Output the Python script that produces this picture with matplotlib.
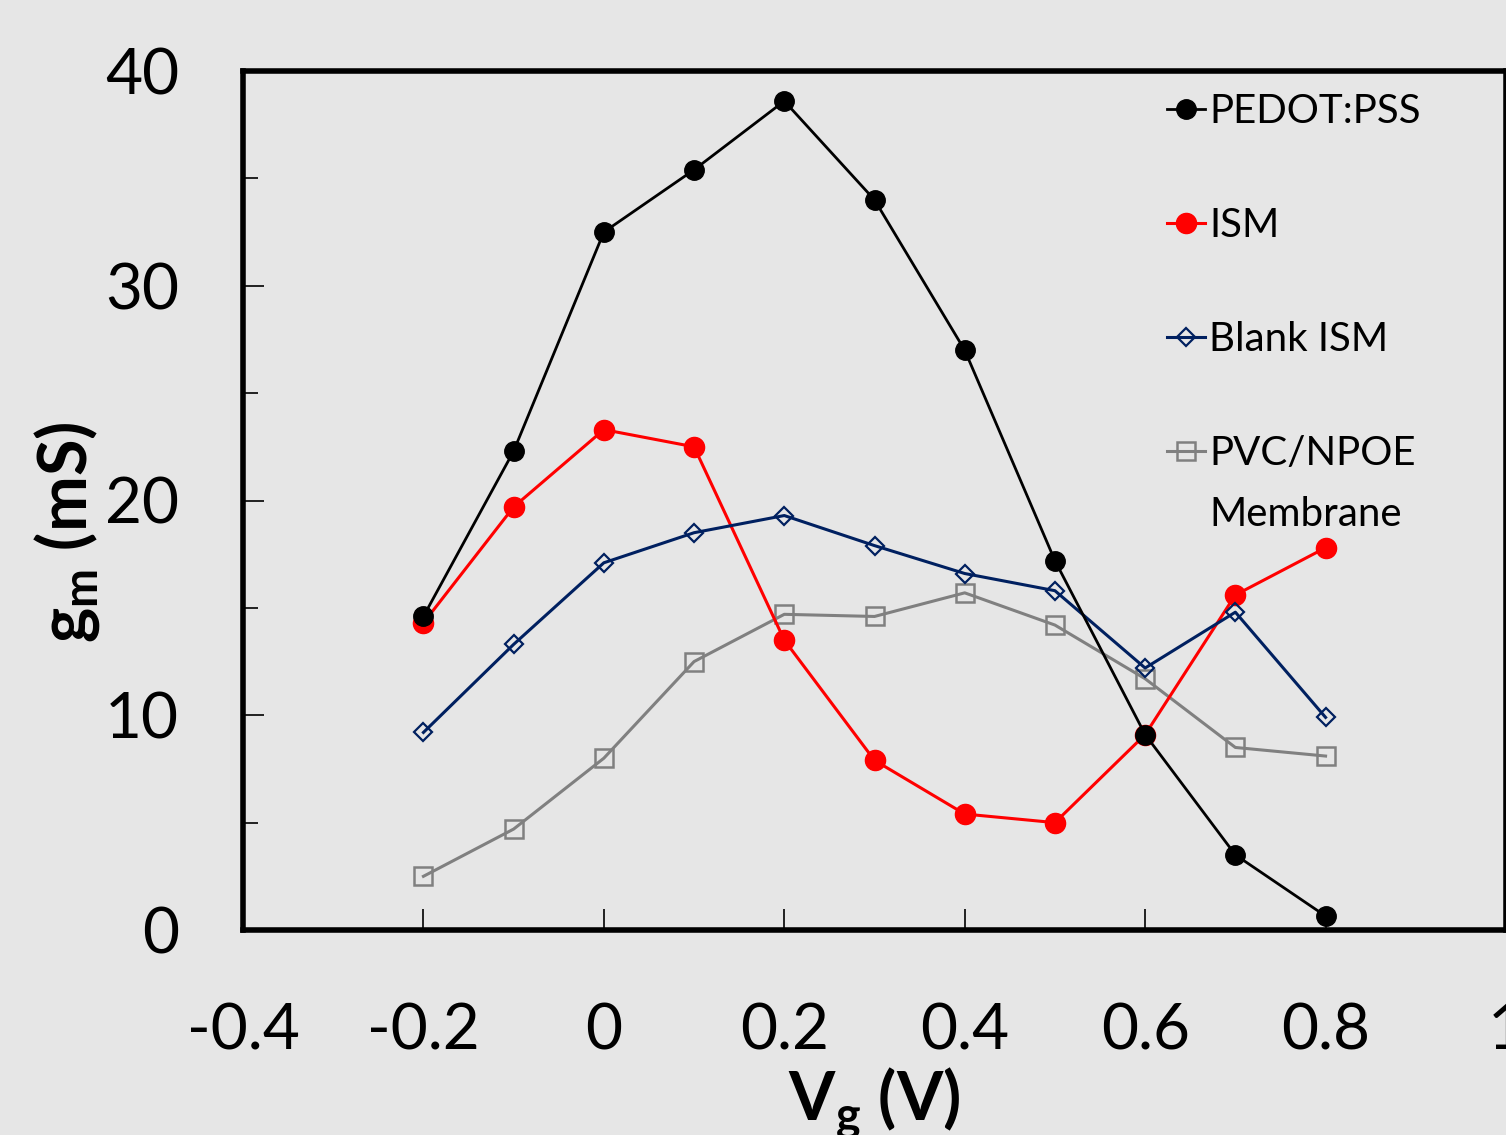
"""
Transconduttanza g_m in funzione di V_g per i diversi strati sul gate.
"""

import matplotlib
matplotlib.use("Agg")
import matplotlib.pyplot as plt
from matplotlib.ticker import MultipleLocator

# ─────────────────────────────────────────────
# DATI
# ─────────────────────────────────────────────
vg = [-0.2, -0.1, 0.0, 0.1, 0.2, 0.3, 0.4, 0.5, 0.6, 0.7, 0.8]

gm_pedot = [14.6, 22.3, 32.5, 35.4, 38.6, 34.0, 27.0, 17.2, 9.1, 3.5, 0.65]
gm_ism = [14.3, 19.7, 23.3, 22.5, 13.5, 7.9, 5.4, 5.0, 9.1, 15.6, 17.8]
gm_blank = [9.2, 13.3, 17.1, 18.5, 19.3, 17.9, 16.6, 15.8, 12.2, 14.8, 9.9]
gm_pvc = [2.5, 4.7, 8.0, 12.5, 14.7, 14.6, 15.7, 14.2, 11.7, 8.5, 8.1]

labels = ["PEDOT:PSS", "ISM", "Blank ISM", "PVC/NPOE"]
label_extra = "Membrane"

x_ticks = [-0.4, -0.2, 0, 0.2, 0.4, 0.6, 0.8, 1]
x_ticklabels = ["-0.4", "-0.2", "0", "0.2", "0.4", "0.6", "0.8", "1"]

BG = "#e6e6e6"
FONT = ["Lato", "DejaVu Sans"]

plt.rcParams["font.family"] = FONT
plt.rcParams["mathtext.fontset"] = "custom"
plt.rcParams["mathtext.rm"] = "Lato"
plt.rcParams["mathtext.bf"] = "Lato:bold"

W, H = 1506, 1135
fig = plt.figure(figsize=(W / 100, H / 100), dpi=100, facecolor=BG)
ax = fig.add_axes([243 / W, (H - 930) / H, (1506 - 243) / W, (930 - 71) / H])
ax.set_facecolor(BG)

# serie
ax.plot(vg, gm_pedot, color="black", lw=2.0, marker="o", ms=14,
        mfc="black", mec="black", label=labels[0], zorder=4)
ax.plot(vg, gm_ism, color="#ff0000", lw=2.2, marker="o", ms=14.5,
        mfc="#ff0000", mec="#ff0000", label=labels[1], zorder=3)
ax.plot(vg, gm_blank, color="#002060", lw=2.2, marker="D", ms=9.5,
        mfc="none", mec="#002060", mew=1.6, label=labels[2], zorder=3)
ax.plot(vg, gm_pvc, color="#808080", lw=2.2, marker="s", ms=13,
        mfc="none", mec="#808080", mew=1.8, label=labels[3], zorder=2)

# assi
ax.set_xlim(-0.4, 1.0)
ax.set_ylim(0, 40)
ax.set_xticks(x_ticks)
ax.set_xticklabels(x_ticklabels)
ax.yaxis.set_major_locator(MultipleLocator(10))
ax.yaxis.set_minor_locator(MultipleLocator(5))

for s in ax.spines.values():
    s.set_linewidth(4)
    s.set_clip_on(False)

ax.tick_params(axis="x", which="major", direction="in", length=15, width=1.2,
               labelsize=46, pad=52, top=False)
ax.tick_params(axis="y", which="major", direction="in", length=15, width=1.2,
               labelsize=46, pad=46, right=False)
ax.tick_params(axis="y", which="minor", direction="in", length=11, width=1.2,
               right=False)

ax.set_xlabel(r"V$_\mathbf{g}$ (V)", fontsize=48, fontweight="bold")
ax.xaxis.set_label_coords(0.5, -0.158)
ax.xaxis.label.set_va("top")
ax.set_ylabel(r"g$_\mathbf{m}$ (mS)", fontsize=48, fontweight="bold")
ax.yaxis.set_label_coords(-0.112, 0.463)

# legenda senza cornice
leg = ax.legend(loc="upper left", bbox_to_anchor=(1167 / W, 1 - 93 / H),
                bbox_transform=fig.transFigure, frameon=False, fontsize=29,
                handlelength=0.95, handletextpad=0.1, labelspacing=1.91,
                borderpad=0, borderaxespad=0)
last = leg.get_texts()[-1]
fig.canvas.draw()
bb = last.get_window_extent()
fig.text(bb.x0 / W, (bb.y0 - 61) / H, label_extra, fontsize=29,
         ha="left", va="bottom")

fig.savefig("out.png", dpi=100, facecolor=BG)
